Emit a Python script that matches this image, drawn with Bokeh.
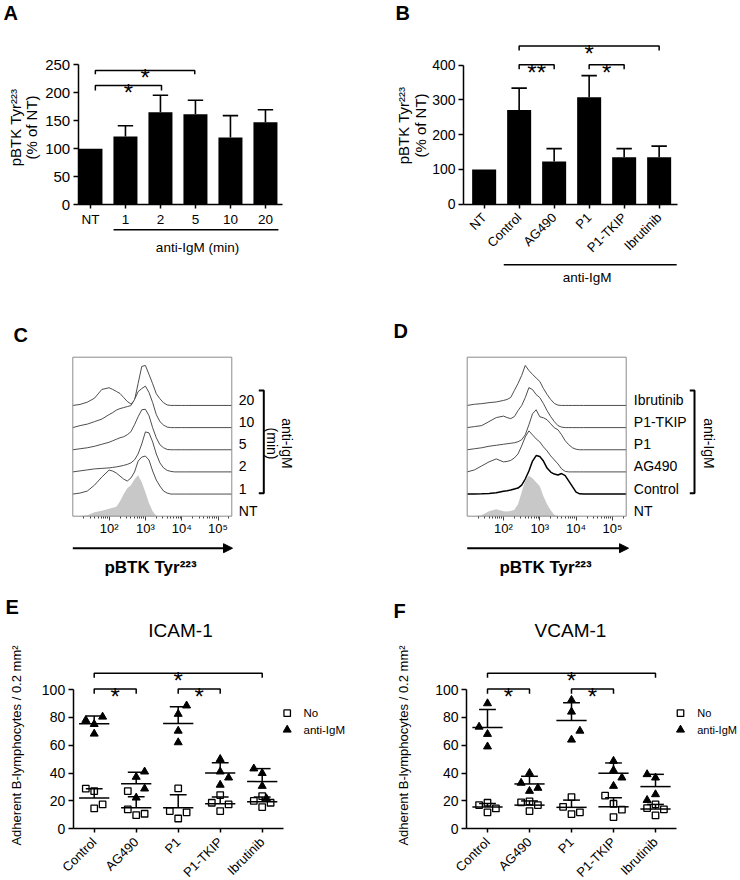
import math
import numpy as np
from bokeh.plotting import figure
from bokeh.layouts import column, row
from bokeh.models import Range1d, FixedTicker, Arrow, NormalHead
from bokeh.core.properties import value
from bokeh.embed import file_html
from bokeh.resources import INLINE

FONT = "Liberation Sans"

# ---------------- data ----------------
# Panel A: pBTK Tyr223 (% of NT) vs anti-IgM time
a_cats = ["NT", "1", "2", "5", "10", "20"]
a_mean = [100, 121.5, 165, 161.5, 120, 147]
a_sem = [0, 19.5, 30.5, 25, 39, 22.5]
a_yticks = [0, 50, 100, 150, 200, 250]

# Panel B: inhibitors
b_cats = ["NT", "Control", "AG490", "P1", "P1-TKIP", "Ibrutinib"]
b_mean = [100, 271, 123, 308, 135, 135]
b_sem = [0, 63, 37, 62, 25, 32]
b_yticks = [0, 100, 200, 300, 400]

# Panels C/D: flow histograms (x = log10 intensity, heights in px units)
hist_grid = [1.0, 1.2, 1.4, 1.6, 1.8, 2.0, 2.1, 2.2, 2.3, 2.4, 2.5, 2.6, 2.7, 2.8, 2.9,
             3.0, 3.1, 3.2, 3.3, 3.4, 3.5, 3.6, 3.7, 3.8, 3.9, 4.0, 4.1, 4.2, 5.38]
c_labels = ["NT", "1", "2", "5", "10", "20"]
c_nt = [0, 0, 1, 4, 5.5, 7.5, 8.5, 9.5, 15, 22, 28, 31, 37, 41, 34, 24, 13, 5, 0.5, 0, 0, 0, 0, 0, 0, 0, 0, 0, 0]
c_1 = [0, 1, 3, 9, 17, 24, 23, 21, 18, 15, 13, 16, 22, 33, 37, 38, 34, 23, 14, 8, 3, 1, 0, 0, 0, 0, 0, 0, 0]
c_2 = [0, 1, 2, 3, 3.5, 4, 4.5, 5, 5.7, 6.5, 7.5, 9, 12, 18, 28, 40, 39, 30, 18, 9, 4, 1.5, 0.5, 0, 0, 0, 0, 0, 0]
c_5 = [0, 1, 2, 3.5, 5.5, 7.5, 9, 10.5, 12, 13, 15, 18, 25, 33, 40, 40.5, 34, 22, 12, 5, 2, 0.3, 0, 0, 0, 0, 0, 0, 0]
c_10 = [0, 2, 3.5, 6, 8.5, 13, 15, 17.5, 19, 20, 21, 22, 28, 36, 39, 41.5, 35, 25, 13, 6, 2.5, 0.5, 0, 0, 0, 0, 0, 0, 0]
c_20 = [0, 1, 3.3, 7.3, 16, 17.7, 16, 14, 12, 8, 4, 1.5, 5, 22, 39, 40, 31, 21.7, 11.7, 6.7, 2.7, 0.5, 0, 0, 0, 0, 0, 0, 0]

d_labels = ["NT", "Control", "AG490", "P1", "P1-TKIP", "Ibrutinib"]
d_nt = [0, 0, 1, 5, 7, 5, 4.8, 5.2, 6.5, 12, 24, 36, 40.5, 38, 34, 30, 20, 12, 6, 1.5, 0, 0, 0, 0, 0, 0, 0, 0, 0]
d_ctrl = [0, 0, 0.2, 0.5, 1.2, 2.7, 3.3, 4, 5, 6, 9, 15, 23, 33, 38.5, 37.5, 33, 26, 22, 20, 19, 20.5, 18.5, 13, 7.5, 2, 0.2, 0, 0]
d_ag = [0, 2, 6, 10, 13, 10, 10.5, 11.5, 14, 18, 26, 35, 41, 37, 33, 30, 25, 21, 16, 12, 8, 3, 0.5, 0, 0, 0, 0, 0, 0]
d_p1 = [0, 1, 2, 3.5, 4.5, 5.5, 6, 6.5, 7, 8, 10, 15, 25, 36, 40, 33, 32, 30, 26, 22, 20, 15, 9, 5, 2, 0.5, 0, 0, 0]
d_tkip = [0, 1, 2, 6, 10, 11.5, 10, 9, 11, 17, 22, 30, 40, 38, 33, 30, 24, 17, 11, 6, 2, 0.5, 0, 0, 0, 0, 0, 0, 0]
d_ibr = [0, 1.2, 1.8, 2.8, 3.5, 5, 6, 8, 15, 22, 30, 40, 35, 31, 27.5, 24, 17, 11, 6, 2, 0.3, 0, 0, 0, 0, 0, 0, 0, 0]
hist_ticks = [2, 3, 4, 5]
hist_tick_labels = ["10²", "10³", "10⁴", "10⁵"]

# Panels E/F: adherent B-lymphocytes / 0.2 mm2 (4 points per group)
ef_groups = ["Control", "AG490", "P1", "P1-TKIP", "Ibrutinib"]
ef_yticks = [0, 20, 40, 60, 80, 100]

e_no = [28.8, 27.1, 14.6, 17.5, 27.1, 13.9, 9.8, 10.8, 29, 12.7, 7.4, 11.8,
        24.2, 18.7, 12.7, 17.5, 20, 23.5, 15.6, 18.7]
e_no_mean = [22.1, 15.1, 15.1, 18, 19.4]
e_no_upper = [28.8, 23, 24.5, 22.8, 22.8]
e_igm = [78, 80.4, 75.1, 68.2, 37.2, 41, 28.8, 22.3, 88.4, 82.4, 70.3, 62,
         50, 41, 31.5, 36.7, 43.2, 39.9, 30.7, 21.8]
e_igm_mean = [75.4, 32.4, 75.6, 40.1, 33.9]
e_igm_upper = [81, 40.6, 87.6, 47.5, 43.2]

f_no = [17, 18.7, 11.8, 14.6, 19, 19.7, 12.7, 17, 22.8, 15.8, 10.6, 11.8,
        23.8, 18, 13.7, 8.4, 14.9, 17.5, 9.6, 13.9]
f_no_mean = [15.6, 17, 15.4, 15.8, 14.2]
f_no_upper = [18.2, 20, 20.6, 22.3, 17.5]
f_igm = [90, 73.2, 68, 59, 32.9, 40, 27.1, 29.3, 92.4, 84, 70.3, 63.9,
         48.7, 42, 36.7, 30.7, 39.1, 36.7, 24.7, 20.6]
f_igm_mean = [72.7, 32.2, 77.8, 39.9, 30.3]
f_igm_upper = [85.7, 37.7, 90.5, 47.3, 39.1]

# horizontal scatter of the dots within a group (layout only)
e_no_jit = [-0.2, 0, 0, 0.2, -0.2, -0.2, 0, 0.2, 0, -0.2, 0, 0.2, 0, -0.2, 0, 0.2, -0.2, 0, 0, 0.2]
e_igm_jit = [-0.2, 0.2, 0, 0, 0, 0.2, 0.2, 0, 0.2, 0, 0, 0, 0, 0, 0, 0.2, -0.2, 0, 0, 0.1]
f_no_jit = [-0.2, 0, 0, 0.2, -0.2, 0, 0, 0.2, 0, -0.2, 0, 0.2, -0.2, 0, 0.2, 0, -0.2, 0, 0, 0.2]
f_igm_jit = [0, -0.2, 0, 0, -0.2, 0, 0, 0.2, 0, 0, 0.2, 0, 0, 0, 0.2, 0, -0.2, 0, 0, -0.2]


# ---------------- helpers ----------------
def make_panel(L, T, W, H, X0, x0, sx, Y0, y0, sy):
    xr = Range1d(x0 + (L - X0) / sx, x0 + (L + W - X0) / sx)
    yr = Range1d(y0 - (T + H - Y0) / sy, y0 + (Y0 - T) / sy)
    p = figure(width=W, height=H, x_range=xr, y_range=yr, output_backend="svg",
               toolbar_location=None, tools="", min_border=0)
    p.outline_line_color = None
    p.grid.visible = False
    p.background_fill_color = "white"
    p.border_fill_color = "white"
    fx = lambda px: x0 + (px - X0) / sx
    fy = lambda py: y0 + (Y0 - py) / sy
    return p, fx, fy


def style_axis(ax, size="13px", tick_out=5, lw=1.5):
    ax.axis_line_color = "black"
    ax.axis_line_width = lw
    ax.major_tick_line_color = "black"
    ax.major_tick_line_width = lw
    ax.major_tick_out = tick_out
    ax.major_tick_in = 0
    ax.minor_tick_line_color = None
    ax.major_label_text_font = FONT
    ax.major_label_text_font_size = size
    ax.major_label_text_color = "black"
    ax.major_label_standoff = 3


def txt(p, x, y, s, size="13px", align="center", baseline="middle", angle=0.0, bold=False):
    p.text(x=[x], y=[y], text=[s], text_font=value(FONT), text_font_size=size,
           text_align=align, text_baseline=baseline, angle=angle,
           text_font_style="bold" if bold else "normal", text_color="black")


def bracket(p, x0, x1, y, yend, lw=1.5):
    p.multi_line(xs=[[x0, x0, x1, x1]], ys=[[yend, y, y, yend]], line_color="black", line_width=lw)


def bar_panel(p, cats, mean, sem, width=0.686, cap=0.22):
    x = np.arange(len(cats), dtype=float)
    mean = np.array(mean, float)
    sem = np.array(sem, float)
    p.vbar(x=x, top=mean, width=width, fill_color="black", line_color=None)
    m = sem > 0
    top = mean + sem
    p.segment(x0=x[m], y0=mean[m], x1=x[m], y1=top[m], line_color="black", line_width=1.6)
    p.segment(x0=x[m] - cap, y0=top[m], x1=x[m] + cap, y1=top[m], line_color="black", line_width=1.6)


def hist_panel(p, grid, curves, labels, label_x, bold_index=None):
    spacing = 22.15
    grid = np.array(grid, float)
    for i in reversed(range(len(curves))):
        off = i * spacing
        h = np.array(curves[i], float)
        base = np.full(len(grid), off)
        if i == 0:
            p.varea(x=grid, y1=base, y2=off + h, fill_color="#c8c8c8")
        else:
            p.varea(x=grid, y1=base, y2=off + h, fill_color="white")
            if i == bold_index:
                p.line(x=grid, y=off + h, line_color="black", line_width=1.5)
            else:
                p.line(x=grid, y=off + h, line_color="#3a3a3a", line_width=0.9)
    for i, lab in enumerate(labels):
        txt(p, label_x, i * spacing + 5.5, lab, size="14px", align="left")
    p.quad(left=[hist_grid[0]], right=[hist_grid[-1]], bottom=[0], top=[159],
           fill_color=None, line_color="#8c8c8c", line_width=1)
    p.yaxis.visible = False
    ax = p.xaxis[0]
    style_axis(ax, tick_out=4, lw=1)
    ax.fixed_location = 0
    ax.axis_line_color = None
    ax.major_tick_line_color = "#444444"
    ax.minor_tick_line_color = "#444444"
    ax.minor_tick_out = 2
    ax.minor_tick_in = 0
    ax.major_label_standoff = 1
    minor = [math.log10(k) + d for d in range(1, 6) for k in range(2, 10)
             if math.log10(k) + d < hist_grid[-1]]
    ax.ticker = FixedTicker(ticks=hist_ticks, minor_ticks=minor)
    ax.major_label_overrides = {t: s for t, s in zip(hist_ticks, hist_tick_labels)}
    ax.bounds = (hist_grid[0], hist_grid[-1])


def scatter_panel(p, no, no_jit, no_mean, no_up, igm, igm_jit, igm_mean, igm_up):
    grp = np.repeat(np.arange(len(ef_groups)), 4).astype(float)
    p.scatter(grp + np.array(no_jit), no, marker="square", size=6.5,
              fill_color="white", line_color="black", line_width=1.3)
    p.scatter(grp + np.array(igm_jit), igm, marker="triangle", size=8,
              fill_color="black", line_color="black", line_width=1)
    x = np.arange(len(ef_groups), dtype=float)
    for mean, up in ((no_mean, no_up), (igm_mean, igm_up)):
        mean = np.array(mean, float)
        up = np.array(up, float)
        p.segment(x0=x - 0.36, y0=mean, x1=x + 0.36, y1=mean, line_color="black", line_width=1.5)
        p.segment(x0=x, y0=mean, x1=x, y1=up, line_color="black", line_width=1.5)
        p.segment(x0=x - 0.2, y0=up, x1=x + 0.2, y1=up, line_color="black", line_width=1.5)


def cat_axes(p, cats, yticks, xb, orient=None, ysize="14px", xsize="13px"):
    ya = p.yaxis[0]
    style_axis(ya, size=ysize)
    ya.fixed_location = xb[0]
    ya.bounds = (yticks[0], yticks[-1])
    ya.ticker = FixedTicker(ticks=yticks)
    xa = p.xaxis[0]
    style_axis(xa, size=xsize, tick_out=4)
    xa.fixed_location = 0
    xa.bounds = xb
    xa.ticker = FixedTicker(ticks=list(range(len(cats))))
    xa.major_label_overrides = {i: c for i, c in enumerate(cats)}
    if orient is not None:
        xa.major_label_orientation = orient
        xa.major_label_standoff = 7


STAR = "24px"
SOFF = 13.8  # px from star centre to its text baseline at 24px

# ---------------- Panel A ----------------
pA, AX, AY = make_panel(0, 0, 370, 290, 77.7, -0.35, 35, 204, 0, 0.5587)
bar_panel(pA, a_cats, a_mean, a_sem)
cat_axes(pA, a_cats, a_yticks, (-0.35, 5.5), ysize="15px", xsize="13.5px")
txt(pA, AX(3), AY(12.5), "A", size="20px", align="left", bold=True)
txt(pA, AX(15), AY(127), "pBTK Tyr²²³", size="15px", angle=math.pi / 2)
txt(pA, AX(31), AY(127), "(% of NT)", size="15px", angle=math.pi / 2)
bracket(pA, 0.14, 2.03, 213, 204)
bracket(pA, 0.14, 2.98, 240, 233)
txt(pA, 1.085, AY(77.7 + SOFF), "*", size=STAR, baseline="alphabetic")
txt(pA, 1.56, AY(62.7 + SOFF), "*", size=STAR, baseline="alphabetic")
pA.segment(x0=[0.66], y0=[AY(229.3)], x1=[5.37], y1=[AY(229.3)], line_color="black", line_width=1.5)
txt(pA, AX(197), AY(246.7), "anti-IgM (min)", size="13.5px")

# ---------------- Panel B ----------------
pB, BX, BY = make_panel(370, 0, 370, 290, 463, -0.59, 35, 203.7, 0, 0.3475)
bar_panel(pB, b_cats, b_mean, b_sem)
cat_axes(pB, b_cats, b_yticks, (-0.59, 5.51), orient=math.pi / 4)
txt(pB, BX(395), BY(12), "B", size="20px", align="left", bold=True)
txt(pB, BX(403.3), BY(125), "pBTK Tyr²²³", size="15px", angle=math.pi / 2)
txt(pB, BX(420), BY(125), "(% of NT)", size="15px", angle=math.pi / 2)
bracket(pB, 1, 2, 401, 388)
bracket(pB, 3, 4, 401, 388)
bracket(pB, 1, 5, 455, 442)
txt(pB, 1.5, BY(58.3 + SOFF), "**", size=STAR, baseline="alphabetic")
txt(pB, 3.5, BY(58.3 + SOFF), "*", size=STAR, baseline="alphabetic")
txt(pB, 3.0, BY(39 + SOFF), "*", size=STAR, baseline="alphabetic")
pB.segment(x0=[0.56], y0=[BY(264.3)], x1=[5.5], y1=[BY(264.3)], line_color="black", line_width=1.5)
txt(pB, BX(586.7), BY(276.7), "anti-IgM", size="13.5px")

# ---------------- Panel C ----------------
pC, CX, CY = make_panel(0, 290, 370, 290, 72.3, 1.0, 36.3, 515.7, 0, 1.0)
hist_panel(pC, hist_grid, [c_nt, c_1, c_2, c_5, c_10, c_20], c_labels, CX(238.3))
txt(pC, CX(13), CY(334), "C", size="20px", align="left", bold=True)
pC.multi_line(xs=[[CX(258.3), CX(263.3), CX(263.3), CX(258.3)]],
              ys=[[CY(390), CY(390), CY(492.7), CY(492.7)]], line_color="black", line_width=2)
txt(pC, CX(286), CY(443), "anti-IgM", size="14px", angle=-math.pi / 2)
txt(pC, CX(271), CY(443), "(min)", size="14px", angle=-math.pi / 2)
pC.add_layout(Arrow(end=NormalHead(size=9, fill_color="black", line_color="black", line_width=1),
                    x_start=hist_grid[0], y_start=CY(547.7), x_end=CX(232), y_end=CY(547.7),
                    line_width=2, line_color="black"))
txt(pC, CX(150), CY(567), "pBTK Tyr²²³", size="17px", bold=True)

# ---------------- Panel D ----------------
pD, DX, DY = make_panel(370, 290, 370, 290, 466.7, 1.0, 36.3, 515.7, 0, 1.0)
hist_panel(pD, hist_grid, [d_nt, d_ctrl, d_ag, d_p1, d_tkip, d_ibr], d_labels, DX(633.3), bold_index=1)
txt(pD, DX(393), DY(330), "D", size="20px", align="left", bold=True)
pD.multi_line(xs=[[DX(689.3), DX(694), DX(694), DX(689.3)]],
              ys=[[DY(390), DY(390), DY(492.7), DY(492.7)]], line_color="black", line_width=2)
txt(pD, DX(708.3), DY(443), "anti-IgM", size="14px", angle=-math.pi / 2)
pD.add_layout(Arrow(end=NormalHead(size=9, fill_color="black", line_color="black", line_width=1),
                    x_start=hist_grid[0], y_start=DY(547.7), x_end=DX(628), y_end=DY(547.7),
                    line_width=2, line_color="black"))
txt(pD, DX(545), DY(567), "pBTK Tyr²²³", size="17px", bold=True)

# ---------------- Panel E ----------------
pE, EX, EY = make_panel(0, 580, 370, 300, 72.7, -0.5, 42, 828.3, 0, 1.393)
scatter_panel(pE, e_no, e_no_jit, e_no_mean, e_no_upper, e_igm, e_igm_jit, e_igm_mean, e_igm_upper)
cat_axes(pE, ef_groups, ef_yticks, (-0.5, 4.5), orient=math.pi / 4)
txt(pE, EX(5), EY(606), "E", size="20px", align="left", bold=True)
txt(pE, EX(180), EY(630), "ICAM-1", size="19px")
txt(pE, EX(15.5), EY(745), "Adherent B-lymphocytes / 0.2 mm²", angle=math.pi / 2)
bracket(pE, 0, 1, 100.4, 97)
bracket(pE, 2, 3, 100.4, 97)
bracket(pE, 0, 4, 111.7, 108.5)
txt(pE, 0.5, EY(681.7 + SOFF), "*", size=STAR, baseline="alphabetic")
txt(pE, 2.5, EY(681.7 + SOFF), "*", size=STAR, baseline="alphabetic")
txt(pE, 2.0, EY(666 + SOFF), "*", size=STAR, baseline="alphabetic")
pE.scatter([EX(286.7)], [EY(712.7)], marker="square", size=6.5, fill_color="white", line_color="black", line_width=1.3)
pE.scatter([EX(286.7)], [EY(729.3)], marker="triangle", size=8, fill_color="black", line_color="black")
txt(pE, EX(303), EY(712.7), "No", size="11.5px", align="left")
txt(pE, EX(303), EY(729.3), "anti-IgM", size="11.5px", align="left")

# ---------------- Panel F ----------------
pF, FX, FY = make_panel(370, 580, 370, 300, 466, -0.5, 42, 828.3, 0, 1.393)
scatter_panel(pF, f_no, f_no_jit, f_no_mean, f_no_upper, f_igm, f_igm_jit, f_igm_mean, f_igm_upper)
cat_axes(pF, ef_groups, ef_yticks, (-0.5, 4.5), orient=math.pi / 4)
txt(pF, FX(393), FY(610), "F", size="20px", align="left", bold=True)
txt(pF, FX(570), FY(630), "VCAM-1", size="19px")
txt(pF, FX(403.3), FY(745), "Adherent B-lymphocytes / 0.2 mm²", angle=math.pi / 2)
bracket(pF, 0, 1, 100.4, 97)
bracket(pF, 2, 3, 100.4, 97)
bracket(pF, 0, 4, 111.7, 108.5)
txt(pF, 0.5, FY(681.7 + SOFF), "*", size=STAR, baseline="alphabetic")
txt(pF, 2.5, FY(681.7 + SOFF), "*", size=STAR, baseline="alphabetic")
txt(pF, 2.0, FY(666 + SOFF), "*", size=STAR, baseline="alphabetic")
pF.scatter([FX(680)], [FY(712.7)], marker="square", size=6.5, fill_color="white", line_color="black", line_width=1.3)
pF.scatter([FX(680)], [FY(729.3)], marker="triangle", size=8, fill_color="black", line_color="black")
txt(pF, FX(696.7), FY(712.7), "No", size="11px", align="left")
txt(pF, FX(696.7), FY(729.3), "anti-IgM", size="11px", align="left")

layout = column(row(pA, pB), row(pC, pD), row(pE, pF))
open("out.html", "w").write(file_html(layout, INLINE))
